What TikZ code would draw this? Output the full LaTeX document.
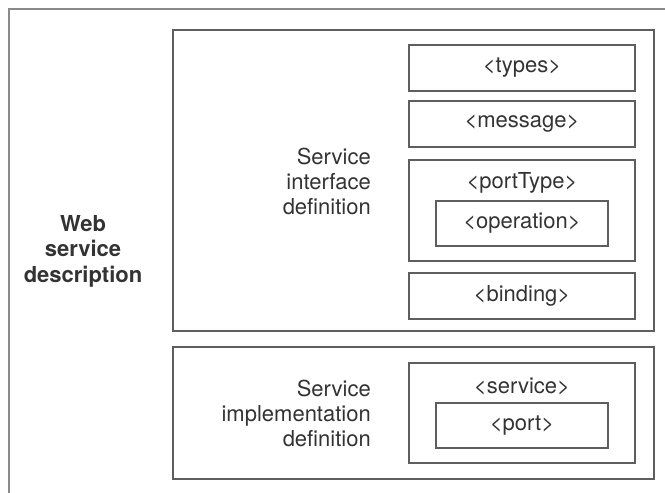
\documentclass[tikz,border=0pt]{standalone}
\usepackage{fontspec}
\setmainfont{TeX Gyre Heros}
\usepackage{tikz}
\usetikzlibrary{positioning}
\definecolor{linegray}{HTML}{5E5E5E}
\definecolor{framegray}{HTML}{8A8A8A}
\definecolor{textgray}{HTML}{333333}
\tikzset{tag box/.style={rectangle,draw=linegray,line width=1.6pt,minimum width=226pt,minimum height=46pt,inner sep=0pt,text=textgray},
	inner box/.style={tag box,minimum width=172pt,minimum height=45pt},
	part box/.style={rectangle,draw=linegray,line width=1.6pt,minimum width=481pt,inner sep=0pt},
	caption/.style={align=right,text=textgray,inner sep=0pt},}

\begin{document}
\begin{tikzpicture}[x=1pt, y=-1pt, font=\fontsize{22}{25}\selectfont]
	\useasboundingbox (0,0) rectangle (665,493);
	\clip (0,0) rectangle (665,493);
	% outer frame runs off the right and bottom edges
	\node[rectangle, draw=framegray, line width=1.6pt, minimum width=691pt, minimum height=521pt] (wsd) at (354.5,269.5) {};
	\node[align=center, text=textgray, font=\fontsize{22}{25.5}\selectfont\bfseries] (wsdtext) at (83,251) {Web\\service\\description};

	\node[part box, minimum height=301pt] (iface) at (413.5,180.5) {};
	\node[part box, minimum height=132pt] (impl) at (413.5,413) {};
	\node[caption, anchor=east] (ifacetext) at (371,181) {Service\\interface\\definition};
	\node[caption, anchor=east] (impltext) at (371,413) {Service\\implementation\\definition};

	\node[tag box] (types) at (522,68) {<types>};
	\node[tag box] (message) [below = 8.4pt of types] {<message>};
	\node[tag box, minimum height=101pt] (porttype) [below = 11.4pt of message] {};
	\node[text=textgray] (ptname) [below = 24pt of porttype.north, anchor=center] {<portType>};
	\node[inner box] (operation) [below = 64pt of porttype.north, anchor=center] {<operation>};
	\node[tag box] (binding) [below = 10.4pt of porttype] {<binding>};

	\node[tag box, minimum height=100pt] (service) [below = 42.4pt of binding] {};
	\node[text=textgray] (svname) [below = 24pt of service.north, anchor=center] {<service>};
	\node[inner box] (port) [below = 63.5pt of service.north, anchor=center] {<port>};
\end{tikzpicture}
\end{document}
